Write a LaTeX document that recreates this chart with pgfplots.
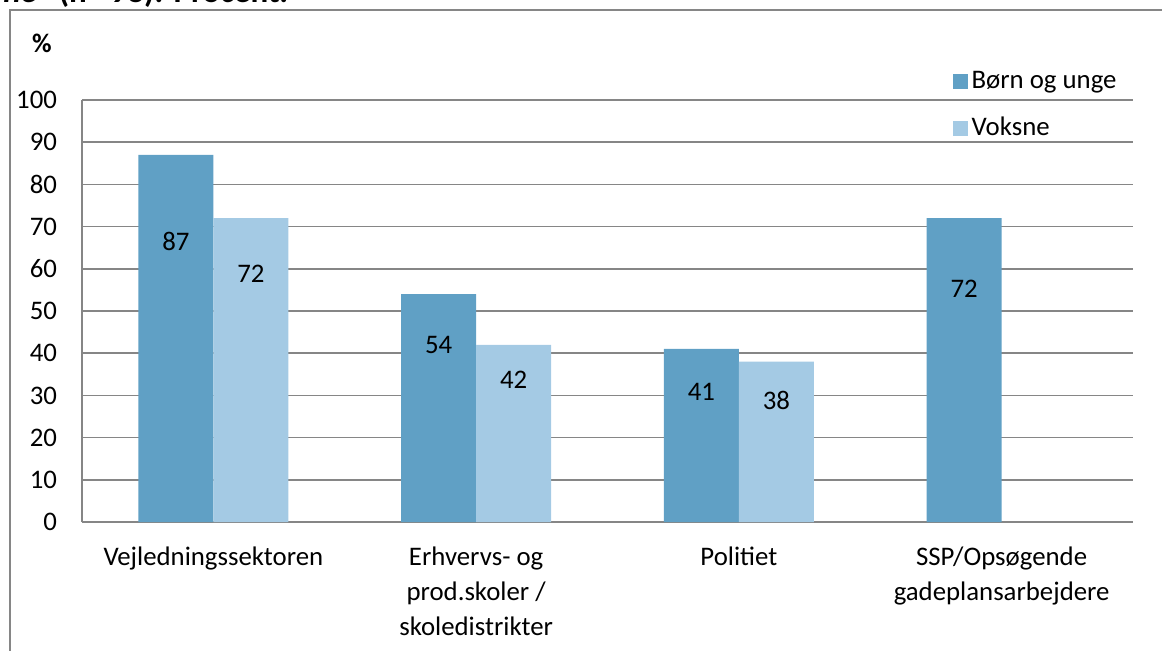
\documentclass[border=0pt]{standalone}
\usepackage{pgfplots}
\pgfplotsset{compat=1.18}
\usepackage{pgfplotstable}
\usepackage{fontspec}
\setmainfont{Carlito}
\definecolor{darkbar}{RGB}{96,160,197}
\definecolor{lightbar}{RGB}{164,202,228}
\definecolor{gridgray}{RGB}{134,134,134}
\pgfplotstableread{
x y ly
0 87 66.4
1 54 41.9
2 41 30.8
3 72 55.2
}\born
\pgfplotstableread{
x y ly
0 72 58.8
1 42 33.6
2 38 28.9
}\voksne
\newcommand\ff{\fontsize{13.4}{16}\selectfont}
\begin{document}
\begin{tikzpicture}
\pgfplotsset{/pgf/number format/assume math mode=true}
\begin{axis}[
  at={(41pt,64pt)}, anchor=south west,
  scale only axis, width=525.5pt, height=211pt,
  ybar=0pt, bar width=37.5pt,
  ymin=0, ymax=100, ytick={0,10,...,100},
  xmin=-0.5, xmax=3.5,
  xtick={0,1,2,3},
  xticklabels={Vejledningssektoren, {Erhvervs- og\\prod.skoler /\\skoledistrikter}, Politiet, {SSP/Opsøgende\\gadeplansarbejdere}},
  axis x line*=bottom, axis y line*=left,
  axis line style={gridgray, line width=0.9pt},
  every outer x axis line/.append style={-}, every outer y axis line/.append style={-},
  ymajorgrids, grid style={gridgray, line width=0.8pt},
  major tick length=0pt,
  tick style={draw=none},
  yticklabel style={font=\ff, xshift=-9pt},
  xticklabel style={font=\fontsize{13.4}{17.5}\selectfont, align=center, anchor=north, yshift=-9pt},
  nodes near coords,
  every node near coord/.append style={font=\ff, anchor=center, yshift=\dy*2.11pt, text=black},
  visualization depends on={\thisrow{ly}-\thisrow{y} \as \dy},
  legend style={draw=none, fill=none, at={(0.828,1.079)}, anchor=north west, inner sep=0pt, row sep=9pt, font=\ff, legend cell align=left},
  legend image code/.code={\fill[#1, draw=none] (0pt,-3.75pt) rectangle (7.5pt,3.75pt);},
  clip=false,
]
\addplot[fill=darkbar, draw=none] table[x=x, y=y] {\born};
\addlegendentry{Børn og unge}
\addplot[fill=lightbar, draw=none] table[x=x, y=y] {\voksne};
\addlegendentry{Voksne}
\end{axis}
\node[font=\bfseries\ff] at (21pt,303.5pt) {\%};
\draw[gridgray, line width=1pt] (5pt,-50pt) -- (5pt,320pt) -- (700pt,320pt);
\node[anchor=base west, inner sep=0pt, font=\bfseries\fontsize{16.5}{18}\selectfont] at (1.5pt,323.5pt) {\textit{ne"} (n= 98): Procent.};
\pgfresetboundingbox
\path[use as bounding box] (0pt,0pt) rectangle (581pt,325pt);
\end{tikzpicture}
\end{document}
